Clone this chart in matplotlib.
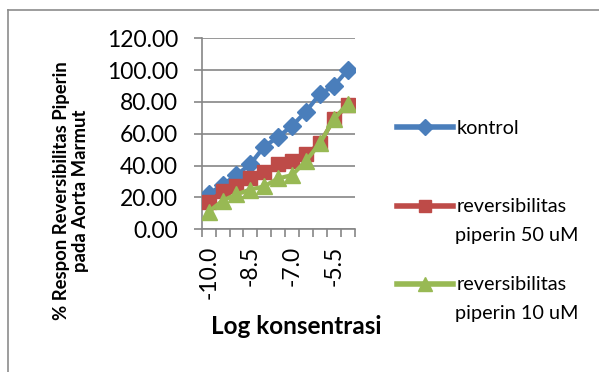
import matplotlib
matplotlib.use("Agg")
import matplotlib.pyplot as plt
from matplotlib.lines import Line2D

plt.rcParams['font.family'] = ['Lato', 'DejaVu Sans']

# data
konsentrasi = ['-10.0', '-9.5', '-9.0', '-8.5', '-8.0', '-7.5',
               '-7.0', '-6.5', '-6.0', '-5.5', '-5.0']
kontrol = [22, 28, 34, 41, 52, 58, 65, 74, 85, 90, 100]
piperin_50 = [17, 24, 27, 32, 36, 41, 43, 47, 54, 69, 78]
piperin_10 = [11, 18, 22, 25, 27, 32, 34, 43, 54, 69, 79]
y_ticks = [0, 20, 40, 60, 80, 100, 120]

W, H = 599, 372
fig = plt.figure(figsize=(W / 100, H / 100), dpi=100)

# outer chart frame (only top/left visible)
fig.lines.append(Line2D([8 / W, 1.0], [1 - 10 / H, 1 - 10 / H], transform=fig.transFigure,
                        color='#8c8c8c', lw=1.2))
fig.lines.append(Line2D([8 / W, 8 / W], [0, 1 - 10 / H], transform=fig.transFigure,
                        color='#8c8c8c', lw=1.2))

ax = fig.add_axes([201.7 / W, 1 - 229.3 / H, (354.6 - 201.7) / W, (229.3 - 38.3) / H])

biru = '#4A7EBB'
merah = '#BE4B48'
hijau = '#98B954'

x = list(range(len(konsentrasi)))
ax.plot(x, kontrol, color=biru, lw=3, marker='D', ms=9, zorder=3)
ax.plot(x, piperin_50, color=merah, lw=3, marker='s', ms=10, zorder=4)
ax.plot(x, piperin_10, color=hijau, lw=3, marker='^', ms=11, zorder=5)

ax.set_xlim(-0.5, len(konsentrasi) - 0.5)
ax.set_ylim(0, 120)

ax.set_yticks(y_ticks)
ax.set_yticklabels([f'{v:.2f}' for v in y_ticks], fontsize=16.5)
ax.yaxis.grid(True, color='#868686', lw=1.2)
ax.set_axisbelow(True)

# category boundaries as tick marks, labels every third category
ax.set_xticks([i - 0.5 for i in range(len(konsentrasi) + 1)])
ax.set_xticklabels([])
ax.set_xticks(x[::3], minor=True)
ax.set_xticklabels(konsentrasi[::3], minor=True, rotation=90, fontsize=16.5)
ax.tick_params(axis='x', which='minor', length=0, pad=12)
ax.tick_params(axis='x', which='major', length=6, width=1.2, color='#868686', direction='out')
ax.tick_params(axis='y', length=6, width=1.2, color='#868686', pad=11)

for s in ['top', 'right']:
    ax.spines[s].set_visible(False)
for s in ['left', 'bottom']:
    ax.spines[s].set_color('#868686')
    ax.spines[s].set_linewidth(1.2)

fig.text(71 / W, 1 - 191 / H, '% Respon Reversibilitas Piperin\npada Aorta Marmut',
         rotation=90, ha='center', va='center', fontsize=13.3, fontweight='bold',
         multialignment='center', linespacing=1.1)
fig.text(296 / W, 1 - 327 / H, 'Log konsentrasi', ha='center', va='center',
         fontsize=17.5, fontweight='bold')

# legend entries
entri = [
    (biru, 'D', 9, 'kontrol', None, 128),
    (merah, 's', 10, 'reversibilitas', 'piperin 50 uM', 207),
    (hijau, '^', 11, 'reversibilitas', 'piperin 10 uM', 285),
]
for warna, mk, ms, baris1, baris2, yy in entri:
    h = Line2D([], [], color=warna, lw=4, marker=mk, ms=ms * 0.9)
    lg = fig.legend(handles=[h], labels=[baris1], loc='center left',
                    bbox_to_anchor=(397 / W, 1 - yy / H), frameon=False,
                    fontsize=14.3, handlelength=2.8, handletextpad=0.2,
                    borderpad=0, borderaxespad=0)
    if baris2:
        fig.text(455 / W, 1 - (yy + 29) / H, baris2, ha='left', va='center', fontsize=14.3)

fig.savefig('out.png', dpi=100)
